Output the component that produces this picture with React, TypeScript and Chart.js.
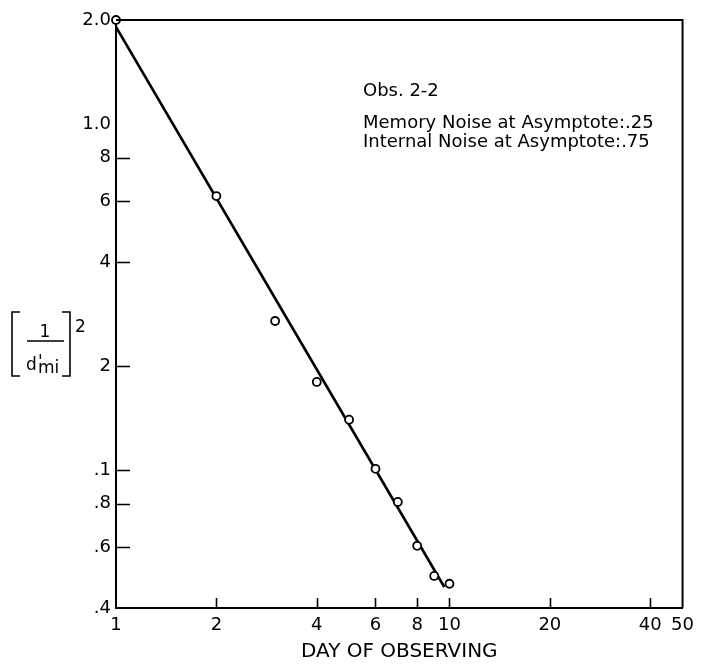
import React, { useEffect, useRef } from 'react';
import { Chart, registerables } from 'chart.js';

Chart.register(...registerables);

// ---- data ----
const days = [1, 2, 3, 4, 5, 6, 7, 8, 9, 10];
const invDprimeSq = [2.0, 0.62, 0.27, 0.18, 0.14, 0.101, 0.081, 0.0605, 0.0495, 0.047];
const fitDays = [1, 9.65];
const fitValues = [1.91, 0.046];

const xTickValues = [1, 2, 4, 6, 8, 10, 20, 40, 50];
const xTickLabels = ['1', '2', '4', '6', '8', '10', '20', '40', '50'];
const yTickValues = [2, 1, 0.8, 0.6, 0.4, 0.2, 0.1, 0.08, 0.06, 0.04];
const yTickLabels = ['2.0', '1.0', '8', '6', '4', '2', '.1', '.8', '.6', '.4'];
const xInnerTicks = [2, 4, 6, 8, 10, 20, 40];
const yInnerTicks = [0.8, 0.6, 0.4, 0.2, 0.1, 0.08, 0.06];

const noteLines = ['Obs. 2-2', 'Memory Noise at Asymptote:.25', 'Internal Noise at Asymptote:.75'];
const xTitle = 'DAY OF OBSERVING';
const FONT = "'DejaVu Sans', sans-serif";

const decorPlugin = {
  id: 'decor',
  afterDraw(chart: any) {
    const { ctx, chartArea: a, scales } = chart;
    const x = scales.x;
    const y = scales.y;
    ctx.save();
    ctx.strokeStyle = '#000';
    ctx.fillStyle = '#000';
    // top and right frame
    ctx.lineWidth = 2;
    ctx.beginPath();
    ctx.moveTo(a.left, a.top);
    ctx.lineTo(a.right, a.top);
    ctx.lineTo(a.right, a.bottom);
    ctx.stroke();
    // inward tick marks
    ctx.lineWidth = 1.6;
    ctx.beginPath();
    yInnerTicks.forEach((v) => {
      const py = Math.round(y.getPixelForValue(v)) + 0.5;
      ctx.moveTo(a.left, py);
      ctx.lineTo(a.left + 14, py);
    });
    xInnerTicks.forEach((v) => {
      const px = Math.round(x.getPixelForValue(v)) + 0.5;
      ctx.moveTo(px, a.bottom);
      ctx.lineTo(px, a.bottom - 10);
    });
    ctx.stroke();

    // annotation text
    ctx.font = `18px ${FONT}`;
    ctx.textAlign = 'left';
    ctx.textBaseline = 'alphabetic';
    ctx.fillText(noteLines[0], 363, 96);
    ctx.fillText(noteLines[1], 363, 128);
    ctx.fillText(noteLines[2], 363, 147);

    // y-axis label: [ 1 / d'_mi ]^2
    ctx.lineWidth = 1.6;
    ctx.beginPath();
    ctx.moveTo(20, 312); ctx.lineTo(12, 312); ctx.lineTo(12, 376); ctx.lineTo(20, 376);
    ctx.moveTo(62, 312); ctx.lineTo(70, 312); ctx.lineTo(70, 376); ctx.lineTo(62, 376);
    ctx.moveTo(27, 341); ctx.lineTo(64, 341);
    ctx.stroke();
    ctx.font = `17px ${FONT}`;
    ctx.textAlign = 'center';
    ctx.fillText('1', 45, 337);
    ctx.textAlign = 'left';
    ctx.fillText('d', 26, 370);
    ctx.fillText("'", 38, 367);
    ctx.fillText('mi', 38, 373);
    ctx.fillText('2', 75, 332);
    ctx.restore();
  },
};

export default function App() {
  const ref = useRef<HTMLCanvasElement>(null);

  useEffect(() => {
    if (!ref.current) return;
    Chart.defaults.font.family = FONT;
    Chart.defaults.color = '#000';
    const chart = new Chart(ref.current, {
      type: 'scatter',
      data: {
        datasets: [
          {
            label: 'observed',
            data: days.map((d, i) => ({ x: d, y: invDprimeSq[i] })),
            showLine: false,
            pointRadius: 4,
            pointBorderWidth: 1.8,
            pointBorderColor: '#000',
            pointBackgroundColor: '#fff',
            clip: false,
          },
          {
            label: 'fit',
            data: fitDays.map((d, i) => ({ x: d, y: fitValues[i] })),
            showLine: true,
            pointRadius: 0,
            borderWidth: 2.6,
            borderColor: '#000',
            fill: false,
          },
        ],
      },
      options: {
        responsive: false,
        animation: false,
        events: [],
        layout: { padding: { top: 20, right: 17, left: 0, bottom: 0 } },
        plugins: { legend: { display: false }, tooltip: { enabled: false } },
        scales: {
          x: {
            type: 'logarithmic',
            min: 1,
            max: 50,
            grid: { display: false, drawTicks: false },
            border: { display: true, color: '#000', width: 2 },
            afterBuildTicks: (s: any) => {
              s.ticks = xTickValues.map((v) => ({ value: v }));
            },
            afterFit: (s: any) => {
              s.height = 58;
            },
            ticks: {
              autoSkip: false,
              maxRotation: 0,
              padding: 7,
              color: '#000',
              font: { size: 18, family: FONT },
              callback: (v: any) => xTickLabels[xTickValues.indexOf(Number(v))] ?? '',
            },
            title: {
              display: true,
              text: xTitle,
              color: '#000',
              font: { size: 20, family: FONT },
              padding: { top: 0, bottom: 2 },
            },
          },
          y: {
            type: 'logarithmic',
            min: 0.04,
            max: 2,
            grid: { display: false, drawTicks: false },
            border: { display: true, color: '#000', width: 2 },
            afterBuildTicks: (s: any) => {
              s.ticks = yTickValues.map((v) => ({ value: v }));
            },
            afterFit: (s: any) => {
              s.width = 116;
            },
            ticks: {
              autoSkip: false,
              padding: 5,
              color: '#000',
              font: { size: 18, family: FONT },
              callback: (v: any) => yTickLabels[yTickValues.indexOf(Number(v))] ?? '',
            },
          },
        },
      },
      plugins: [decorPlugin],
    } as any);
    return () => chart.destroy();
  }, []);

  return (
    <div style={{ position: 'absolute', left: 0, top: 0, width: 701, height: 666, background: '#fff' }}>
      <canvas ref={ref} width={701} height={666} style={{ display: 'block' }} />
    </div>
  );
}
